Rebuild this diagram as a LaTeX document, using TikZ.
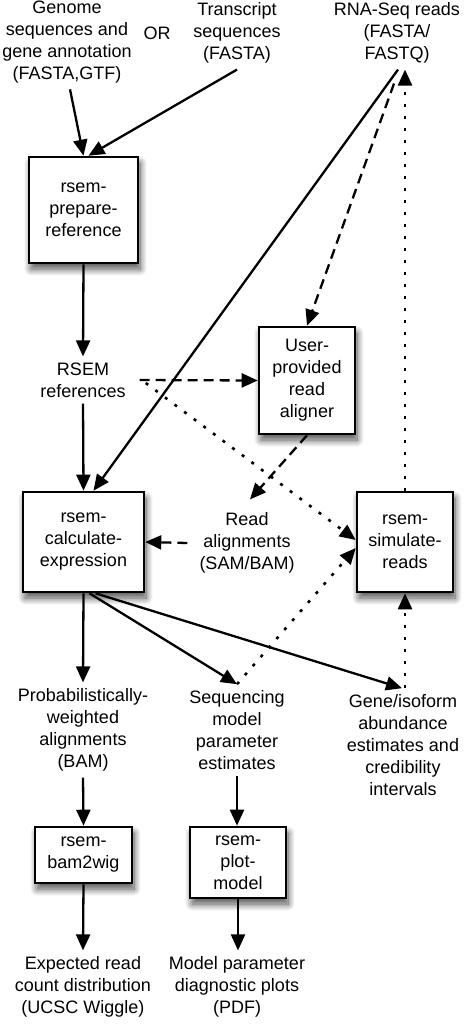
\documentclass[tikz,border=0pt]{standalone}
\usepackage{fontspec}
\setmainfont{Liberation Sans}
\usetikzlibrary{arrows.meta,shadows.blur,calc}
\begin{document}
\begin{tikzpicture}[x=1pt,y=-1pt,
  every node/.style={font=\fontsize{18}{22}\selectfont, align=center},
  txt/.style={inner sep=6pt},
  box/.style={draw, line width=2.6pt, fill=white, inner sep=0pt,
    blur shadow={shadow xshift=2pt, shadow yshift=-6pt, shadow blur steps=14, shadow opacity=70, shadow blur radius=7pt}},
  arr/.style={line width=2.3pt, -{Triangle[length=16pt,width=14pt]}},
  dsh/.style={arr, dash pattern=on 10pt off 6pt},
  dot/.style={arr, line width=2.6pt, dash pattern=on 3pt off 9pt},
]
\useasboundingbox (0,0) rectangle (469,1024);

\node[txt] (genome) at (67,42) {Genome\\sequences and\\gene annotation\\(FASTA,GTF)};
\node[txt] (or) at (157,33) {OR};
\node[txt] (transcript) at (237,33) {Transcript\\sequences\\(FASTA)};
\node[txt] (rnaseq) at (397,33) {RNA-Seq reads\\(FASTA/\\FASTQ)};

\node[box, minimum width=109pt, minimum height=106pt] (prep) at (83.5,210) {rsem-\\prepare-\\reference};
\node[txt] (rsemref) at (83,380) {RSEM\\references};
\node[box, minimum width=96pt, minimum height=107pt] (aligner) at (307,380.5) {User-\\provided\\read\\aligner};
\node[box, minimum width=121pt, minimum height=100pt] (calc) at (83.5,542) {rsem-\\calculate-\\expression};
\node[txt] (readaln) at (247,543) {Read\\alignments\\(SAM/BAM)};
\node[box, minimum width=96pt, minimum height=100pt] (sim) at (405,542) {rsem-\\simulate-\\reads};
\node[txt] (prob) at (83,730) {Probabilistically-\\weighted\\alignments\\(BAM)};
\node[txt] (seq) at (237,730) {Sequencing\\model\\parameter\\estimates};
\node[txt] (gene) at (403,745) {Gene/isoform\\abundance\\estimates and\\credibility\\intervals};
\node[box, minimum width=97pt, minimum height=56pt] (bam) at (83.5,855) {rsem-\\bam2wig};
\node[box, minimum width=96pt, minimum height=71pt] (plot) at (238,862.5) {rsem-\\plot-\\model};
\node[txt] (expected) at (83,987) {Expected read\\count distribution\\(UCSC Wiggle)};
\node[txt] (modelp) at (237,987) {Model parameter\\diagnostic plots\\(PDF)};

\draw[arr] ([xshift=3pt]genome.south) -- (prep.north);
\draw[arr] (transcript.south) -- ([xshift=5pt]prep.north);
\draw[arr] (prep.south) -- (rsemref.north);
\draw[arr] (rsemref.south) -- (calc.north);
\draw[arr] ([xshift=1pt]rnaseq.south) -- ([xshift=10pt]calc.north);
\draw[dsh] ([xshift=-3pt,yshift=-14pt]rnaseq.south) -- (aligner.north);
\draw[dot] (sim.north) -- (sim.north |- rnaseq.south);
\draw[dsh] ([xshift=8pt]rsemref.east) -- (aligner.west);
\draw[dot] ([xshift=14pt,yshift=-3pt]rsemref.east) -- ([yshift=2pt]sim.west);
\draw[dsh] (aligner.south) -- ([xshift=3pt,yshift=7pt]readaln.north);
\draw[dsh] ([xshift=-6pt]readaln.west) -- (calc.east);
\draw[arr] (calc.south) -- (prob.north);
\draw[arr] ([xshift=6pt]calc.south) -- (seq.north);
\draw[arr] ([xshift=12pt]calc.south) -- ([xshift=-1pt]gene.north);
\draw[dot] (seq.north) -- ([yshift=-6pt]sim.west);
\draw[dot] (sim.south |- gene.north) -- (sim.south);
\draw[arr] (prob.south) -- (bam.north);
\draw[arr] (seq.south) -- (seq.south |- plot.north);
\draw[arr] (bam.south) -- (expected.north);
\draw[arr] (plot.south) -- (plot.south |- modelp.north);
\end{tikzpicture}
\end{document}
